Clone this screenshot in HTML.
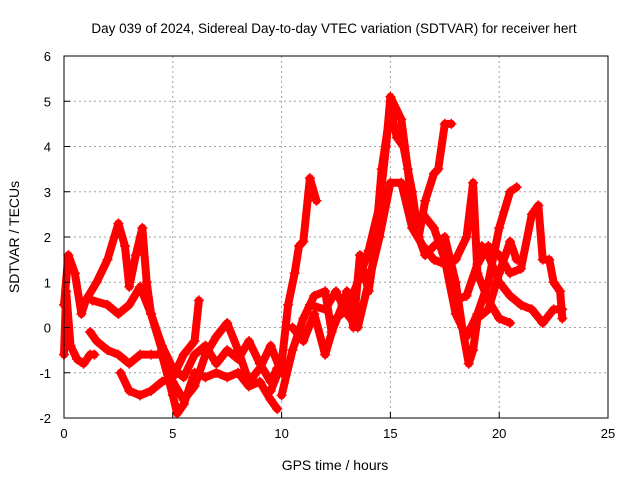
<!DOCTYPE html>
<html><head><meta charset="utf-8"><style>
body{margin:0;background:#fff;}
svg{display:block;font-family:"Liberation Sans",sans-serif;}
</style></head><body>
<svg id="chart" width="640" height="480" viewBox="0 0 640 480">
<rect width="640" height="480" fill="#fff"/>
<text x="334" y="33" font-size="13.5" text-anchor="middle">Day 039 of 2024, Sidereal Day-to-day VTEC variation (SDTVAR) for receiver hert</text>
<g id="grid"></g><g id="series"></g><g id="axes"></g>
<text x="335" y="470" font-size="14" text-anchor="middle">GPS time / hours</text>
<text transform="translate(19,237) rotate(-90)" font-size="14" text-anchor="middle">SDTVAR / TECUs</text>
</svg>
<script>
const xTicks=[0,5,10,15,20,25];
const yTicks=[-2,-1,0,1,2,3,4,5,6];
const s1=[[0,0.5],[0.2,1.6],[0.5,1.2],[0.8,0.3],[1.0,0.6],[1.5,1.0],[2.0,1.5],[2.5,2.3],[2.8,1.8],[3.0,0.9],[3.3,1.6],[3.6,2.2],[3.8,1.0],[4.0,0.3],[4.5,-0.4],[5.0,-0.9],[5.5,-1.1],[6.0,-0.6],[6.5,-0.4],[7,-0.8],[7.5,-0.5],[8.0,-0.7],[8.5,-0.3],[9,-0.8],[9.5,-1.2],[9.8,-0.9]];
const s2=[[0,-0.6],[0.1,0.8],[0.3,-0.4],[0.6,-0.7],[0.9,-0.8],[1.2,-0.6],[1.4,-0.6]];
const s3=[[1.3,0.6],[2.0,0.5],[2.5,0.3],[3.0,0.5],[3.5,0.9],[4.0,0.3],[4.5,-0.5],[5.0,-1.2],[5.5,-1.6],[6,-1.3],[6.5,-0.6],[7,-0.2],[7.5,0.1],[8,-0.5],[8.5,-1.2],[9,-0.9],[9.5,-0.4],[10,-1.0]];
const s4=[[1.2,-0.1],[1.5,-0.3],[2,-0.5],[2.5,-0.6],[3,-0.8],[3.5,-0.6],[4,-0.6],[4.5,-0.6],[5,-1.5],[5.2,-1.9],[5.5,-1.7],[6,-1.0],[6.5,-1.1],[7,-1.0],[7.5,-1.1],[8,-1.0],[8.5,-1.3],[9.0,-1.2],[9.5,-1.6],[9.8,-1.8]];
const s5=[[2.6,-1.0],[3,-1.4],[3.5,-1.5],[4,-1.4],[4.5,-1.2],[5,-1.1],[5.5,-0.6],[6.0,-0.3],[6.2,0.6]];
const s6=[[9.5,-1.4],[10,-0.8],[10.3,0.5],[10.6,1.2],[10.8,1.8],[11.0,1.9],[11.3,3.3],[11.6,2.8]];
const s7=[[10,-1.5],[10.5,-0.5],[11,0.2],[11.5,0.7],[12,0.8],[12.3,-0.1],[12.8,0.5],[13,0.8],[13.3,0.0],[13.6,1.6],[14,0.8],[14.3,1.8],[14.6,3.5],[15,4.8],[15.3,4.2],[15.6,4.0],[16,3.0],[16.3,2.0],[16.6,1.6],[17,1.8],[17.5,2.0],[18,1.0],[18.3,0.0],[18.6,-0.8],[18.8,-0.5],[19,0.2],[19.5,0.4],[20,1.2],[20.5,1.9],[20.8,1.5]];
const s8=[[10.5,0.0],[11,-0.3],[11.5,0.3],[12,-0.6],[12.5,0.2],[13,0.4],[13.5,1.0],[14,1.7],[14.5,2.7],[14.8,4.0],[15,5.1],[15.5,4.6],[15.8,3.5],[16,2.6],[16.3,2.0],[16.6,2.8],[17,3.4],[17.2,3.5],[17.5,4.5],[17.8,4.5]];
const s9=[[11.3,0.5],[12,0.4],[12.5,0.8],[13,0.3],[13.5,0.0],[14,1.0],[14.5,2.0],[15,3.2],[15.5,3.2],[16,2.2],[16.5,1.8],[17,1.5],[17.5,1.4],[18,1.5],[18.5,2.0],[18.8,3.2],[19,1.2],[19.5,0.6],[20,0.2],[20.5,0.1]];
const s10=[[16.5,2.5],[17,2.2],[17.5,1.5],[18,0.3],[18.5,-0.2],[19,0.3],[19.5,1.0],[20,2.2],[20.5,3.0],[20.8,3.1]];
const s11=[[18,0.6],[18.5,0.7],[19,1.4],[19.5,1.8],[20,1.6],[20.5,1.2],[21,1.3],[21.5,2.5],[21.8,2.7],[22,1.5],[22.3,1.5],[22.5,1.0],[22.8,0.8],[22.9,0.2]];
const s12=[[19.2,1.8],[19.5,1.6],[20,1.0],[20.5,0.7],[21,0.5],[21.5,0.4],[22,0.1],[22.5,0.4],[22.9,0.4]];
const allSeries=[s1,s2,s3,s4,s5,s6,s7,s8,s9,s10,s11,s12];
const X0=64,X1=608,Y0=418,Y1=56;
function xs(h){return X0+(h-0)/(25-0)*(X1-X0);}
function ys(v){return Y0-(v+2)/8*(Y0-Y1);}
const NS="http://www.w3.org/2000/svg";
function mk(t,a,p){const e=document.createElementNS(NS,t);for(const k in a)e.setAttribute(k,a[k]);p.appendChild(e);return e;}
const grid=document.getElementById('grid'),axes=document.getElementById('axes'),ser=document.getElementById('series');
xTicks.forEach(t=>{const x=xs(t);
 if(t>0&&t<25){const g=mk('line',{x1:x,x2:x,y1:Y1,y2:Y0,stroke:'#a0a0a0','stroke-dasharray':'2,3'},grid);
 
 }
 const tk=mk('line',{x1:x,x2:x,y1:Y0,y2:Y0-6,stroke:'#000'},axes);
 
 
 const l=mk('text',{x:x,y:Y0+20,'font-size':13,'text-anchor':'middle'},axes);l.textContent=t;
 
 });
yTicks.forEach(t=>{const y=ys(t);
 if(t>-2&&t<6){const g=mk('line',{x1:X0,x2:X1,y1:y,y2:y,stroke:'#a0a0a0','stroke-dasharray':'2,3'},grid);
 
 }
 const tk=mk('line',{x1:X0,x2:X0+6,y1:y,y2:y,stroke:'#000'},axes);
 
 
 const l=mk('text',{x:X0-13,y:y+5,'font-size':13,'text-anchor':'end'},axes);l.textContent=t;
 
 });
const fr=mk('rect',{x:X0,y:Y1,width:X1-X0,height:Y0-Y1,fill:'none',stroke:'#000'},axes);


allSeries.forEach((s,i)=>{
 const pts=s.map(p=>xs(p[0])+','+ys(p[1])).join(' ');
 const pl=mk('polyline',{points:pts,fill:'none',stroke:'#ff0000','stroke-width':8,'stroke-linejoin':'round','stroke-linecap':'round'},ser);
 
 
 s.forEach(p=>{const x=xs(p[0]),y=ys(p[1]);
  const m=mk('path',{d:`M${x-5},${y}H${x+5}M${x},${y-5}V${y+5}`,stroke:'#ff0000','stroke-width':1.5},ser);
  
  });
});
</script>
</body></html>
